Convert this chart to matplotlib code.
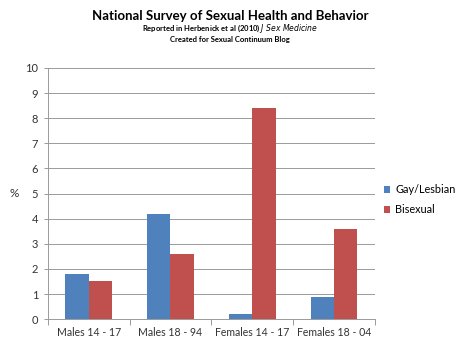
import numpy as np
import matplotlib.pyplot as plt

categories = ["Males 14 - 17", "Males 18 - 94", "Females 14 - 17", "Females 18 - 04"]
gay_lesbian = [1.8, 4.2, 0.2, 0.9]
bisexual = [1.5, 2.6, 8.4, 3.6]
yticks = list(range(0, 11))

plt.rcParams['font.family'] = ['Lato', 'DejaVu Sans']

fig = plt.figure(figsize=(4.6, 3.45), dpi=100)
ax = fig.add_axes([0.104, 0.075, 0.711, 0.728])

x = np.arange(len(categories))
w = 0.286
ax.bar(x - w / 2, gay_lesbian, w, color="#4F81BD", label="Gay/Lesbian", zorder=3)
ax.bar(x + w / 2, bisexual, w, color="#C0504D", label="Bisexual", zorder=3)

ax.set_xlim(-0.5, len(categories) - 0.5)
ax.set_ylim(0, 10)
ax.set_yticks(yticks)
ax.yaxis.grid(True, color="#9a9a9a", linewidth=0.7, zorder=0)
ax.set_xticks(x)
ax.set_xticklabels(categories)
ax.tick_params(axis="x", length=0, labelsize=7.6, pad=6, colors="#333333")
ax.tick_params(axis="y", length=3, width=0.7, color="#9a9a9a", labelsize=8, pad=4, labelcolor="#333333")
# category separator ticks
ax.set_xticks(np.arange(-0.5, len(categories), 1), minor=True)
ax.tick_params(axis="x", which="minor", length=4, width=0.7, color="#9a9a9a")

for s in ["top", "right"]:
    ax.spines[s].set_visible(False)
for s in ["left", "bottom"]:
    ax.spines[s].set_color("#9a9a9a")
    ax.spines[s].set_linewidth(0.7)

ax.set_ylabel("%", rotation=0, fontsize=8.5, color="#333333", labelpad=8, va="center")

ax.legend(loc="center left", bbox_to_anchor=(1.0, 0.475), frameon=False, fontsize=7.8,
          borderaxespad=0.6, borderpad=0.2,
          handlelength=0.6, handleheight=0.6, handletextpad=0.5, labelspacing=0.8)

fig.text(0.5, 0.955, "National Survey of Sexual Health and Behavior", ha="center", va="center",
         fontsize=9.5, fontweight="bold")
fig.text(0.5, 0.918, "Reported in Herbenick et al (2010) $\\bf{\\it{J\\ Sex\\ Medicine}}$", ha="center", va="center",
         fontsize=5.5, fontweight="bold")
fig.text(0.5, 0.885, "Created for Sexual Continuum Blog", ha="center", va="center",
         fontsize=5.5, fontweight="bold")

fig.savefig("out.png", dpi=100)
